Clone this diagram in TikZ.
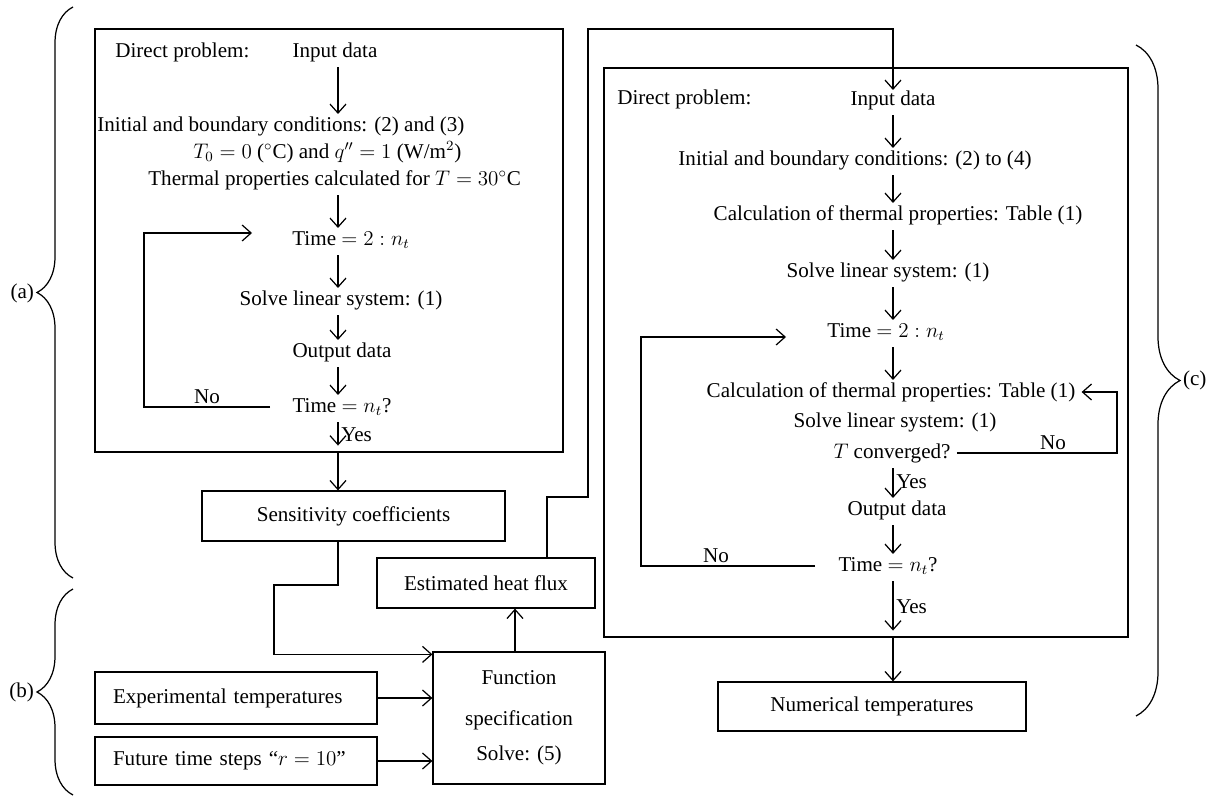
\documentclass[tikz,border=0pt]{standalone}
\usepackage{fontspec}
\setmainfont{Liberation Serif}
\usepackage{tikz}
\usetikzlibrary{arrows.meta,positioning,decorations.pathreplacing}

\begin{document}
\begin{tikzpicture}[
    x=0.02cm, y=-0.02cm,
    every node/.style={font=\fontsize{12}{14}\selectfont},
    block/.style={rectangle, draw=black, line width=0.7pt, inner sep=0pt},
    txt/.style={inner sep=0pt, text height=8.5pt, text depth=2.5pt},
    lab/.style={inner sep=1.5pt},
    arr/.style={draw=black, line width=0.7pt, -{Straight Barb[length=1.8mm,width=3.2mm]}, shorten <=1mm, shorten >=0.4mm},
    conn/.style={draw=black, line width=0.7pt, -{Straight Barb[length=1.8mm,width=3.2mm]}},
    brc/.style={draw=black, line width=0.7pt, decorate, decoration={brace, amplitude=#1}}
    ]
    \fill[white] (0,0) rectangle (1220,797);
    \useasboundingbox (0,0) rectangle (1220,797);

    \node[block, minimum width=9.36cm, minimum height=8.46cm] (dirA) at (329,240.5) {};
    \node[block, minimum width=10.48cm, minimum height=11.38cm] (dirC) at (866,352.5) {};
    \node[block, minimum width=6.06cm, minimum height=1cm] (sens) at (353.5,516) {Sensitivity coefficients};
    \node[block, minimum width=4.36cm, minimum height=1cm] (flux) at (486,583) {Estimated heat flux};
    \node[block, minimum width=3.44cm, minimum height=2.64cm, align=center] (func) at (519,718) {Function\\[9pt]specification\\[6pt]Solve: (5)};
    \node[block, text width=4.92cm, inner xsep=0.36cm, minimum height=1.04cm, align=left] (expt) at (236,698) {Experimental temperatures};
    \node[block, text width=4.92cm, inner xsep=0.36cm, minimum height=0.96cm, align=left] (fut) at (236,761) {Future time steps ``$r = 10$''};
    \node[block, minimum width=6.16cm, minimum height=0.98cm] (numt) at (872,706.5) {Numerical temperatures};

    \coordinate (colA) at (338,0);
    \coordinate (colC) at (893,0);
    \coordinate (lpA) at (144,0);
    \coordinate (lpC) at (641,0);
    \coordinate (lpC2) at (1117,0);
    \coordinate (bendA) at (274,585);
    \coordinate (jogB) at (588,497);
    \coordinate (topB) at (893,29);

    \node[txt, anchor=west] (dpA) at (115,52) {Direct problem:};
    \node[txt] (inA) at (335,52) {Input data};
    \node[txt, anchor=west] (ibcA) at (97,126) {Initial and boundary conditions: (2) and (3)};
    \node[txt, anchor=west] (tzA) at (193,153) {$T_0 = 0$ ($^\circ$C) and $q'' = 1$ (W/m$^2$)};
    \node[txt, anchor=west] (thA) at (148,180) {Thermal properties calculated for $T = 30^\circ$C};
    \node[txt] (tA) at (351,240) {Time $= 2 : n_t$};
    \node[txt] (slA) at (341,300) {Solve linear system: (1)};
    \node[txt] (outA) at (342,352) {Output data};
    \node[txt] (tqA) at (342,407) {Time $= n_t$?};

    \draw[arr] (inA.south -| colA) -- (ibcA.north -| colA);
    \draw[arr] (thA.south -| colA) -- (tA.north -| colA);
    \draw[arr] (tA.south -| colA) -- (slA.north -| colA);
    \draw[arr] (slA.south -| colA) -- (outA.north -| colA);
    \draw[arr] (outA.south -| colA) -- (tqA.north -| colA);
    \draw[arr, shorten >=1.4mm] (tqA.south -| colA) -- node[midway, right, lab] {Yes} (dirA.south -| colA);
    \draw[conn] (dirA.south -| colA) -- (sens.north -| colA);
    \draw[conn] ([xshift=-0.44cm]tqA.west) -- node[above, lab] {No} (tqA.west -| lpA) |- ([xshift=-0.8cm,yshift=0.14cm]tA.west);

    \node[txt, anchor=west] (dpC) at (617,99) {Direct problem:};
    \node[txt] (inC) at (893,100) {Input data};
    \node[txt] (ibcC) at (855,160) {Initial and boundary conditions: (2) to (4)};
    \node[txt] (calC) at (898,215) {Calculation of thermal properties: Table (1)};
    \node[txt] (slC) at (888,272) {Solve linear system: (1)};
    \node[txt] (tC) at (886,332) {Time $= 2 : n_t$};
    \node[txt] (cal2C) at (891,392) {Calculation of thermal properties: Table (1)};
    \node[txt] (sl2C) at (895,422) {Solve linear system: (1)};
    \node[txt] (tcC) at (892,453) {$T$ converged?};
    \node[txt] (outC) at (897,510) {Output data};
    \node[txt] (tqC) at (888,566) {Time $= n_t$?};

    \draw[arr] (inC.south -| colC) -- (ibcC.north -| colC);
    \draw[arr] (ibcC.south -| colC) -- (calC.north -| colC);
    \draw[arr] (calC.south -| colC) -- (slC.north -| colC);
    \draw[arr] (slC.south -| colC) -- (tC.north -| colC);
    \draw[arr] (tC.south -| colC) -- (cal2C.north -| colC);
    \draw[arr] (tcC.south -| colC) -- node[midway, right, lab] {Yes} (outC.north -| colC);
    \draw[arr] (outC.south -| colC) -- (tqC.north -| colC);
    \draw[arr, shorten >=1.4mm] (tqC.south -| colC) -- node[midway, right, lab] {Yes} (dirC.south -| colC);
    \draw[conn] (dirC.south -| colC) -- (numt.north -| colC);
    \draw[conn] ([xshift=0.12cm]tcC.east) -- node[above, lab, pos=0.6] {No} (tcC.east -| lpC2) |- ([xshift=0.12cm]cal2C.east);
    \draw[conn] ([xshift=-0.46cm]tqC.west) -- node[above, lab, pos=0.57] {No} (tqC.west -| lpC) |- ([xshift=-0.82cm,yshift=-0.1cm]tC.west);

    \draw[conn] (sens.south -| colA) |- (bendA) |- ([yshift=-0.06cm]func.north west);
    \draw[conn] (expt.east) -- (expt.east -| func.west);
    \draw[conn] (fut.east) -- (fut.east -| func.west);
    \draw[conn] ([xshift=-0.08cm]func.north) -- ([xshift=-0.08cm]func.north |- flux.south);
    \draw[conn] ([xshift=1.22cm]flux.north) |- (jogB) |- (topB) -- (inC.north);

    \draw[brc=0.72cm] (73,578) -- (73,7);
    \node[lab, anchor=east] (la) at (37,293) {(a)};
    \draw[brc=0.72cm] (73,795) -- (73,589);
    \node[lab, anchor=east] (lb) at (37,692) {(b)};
    \draw[brc=0.88cm] (1136,45) -- (1136,716);
    \node[lab, anchor=west] (lc) at (1180,380) {(c)};
  \end{tikzpicture}
\end{document}
